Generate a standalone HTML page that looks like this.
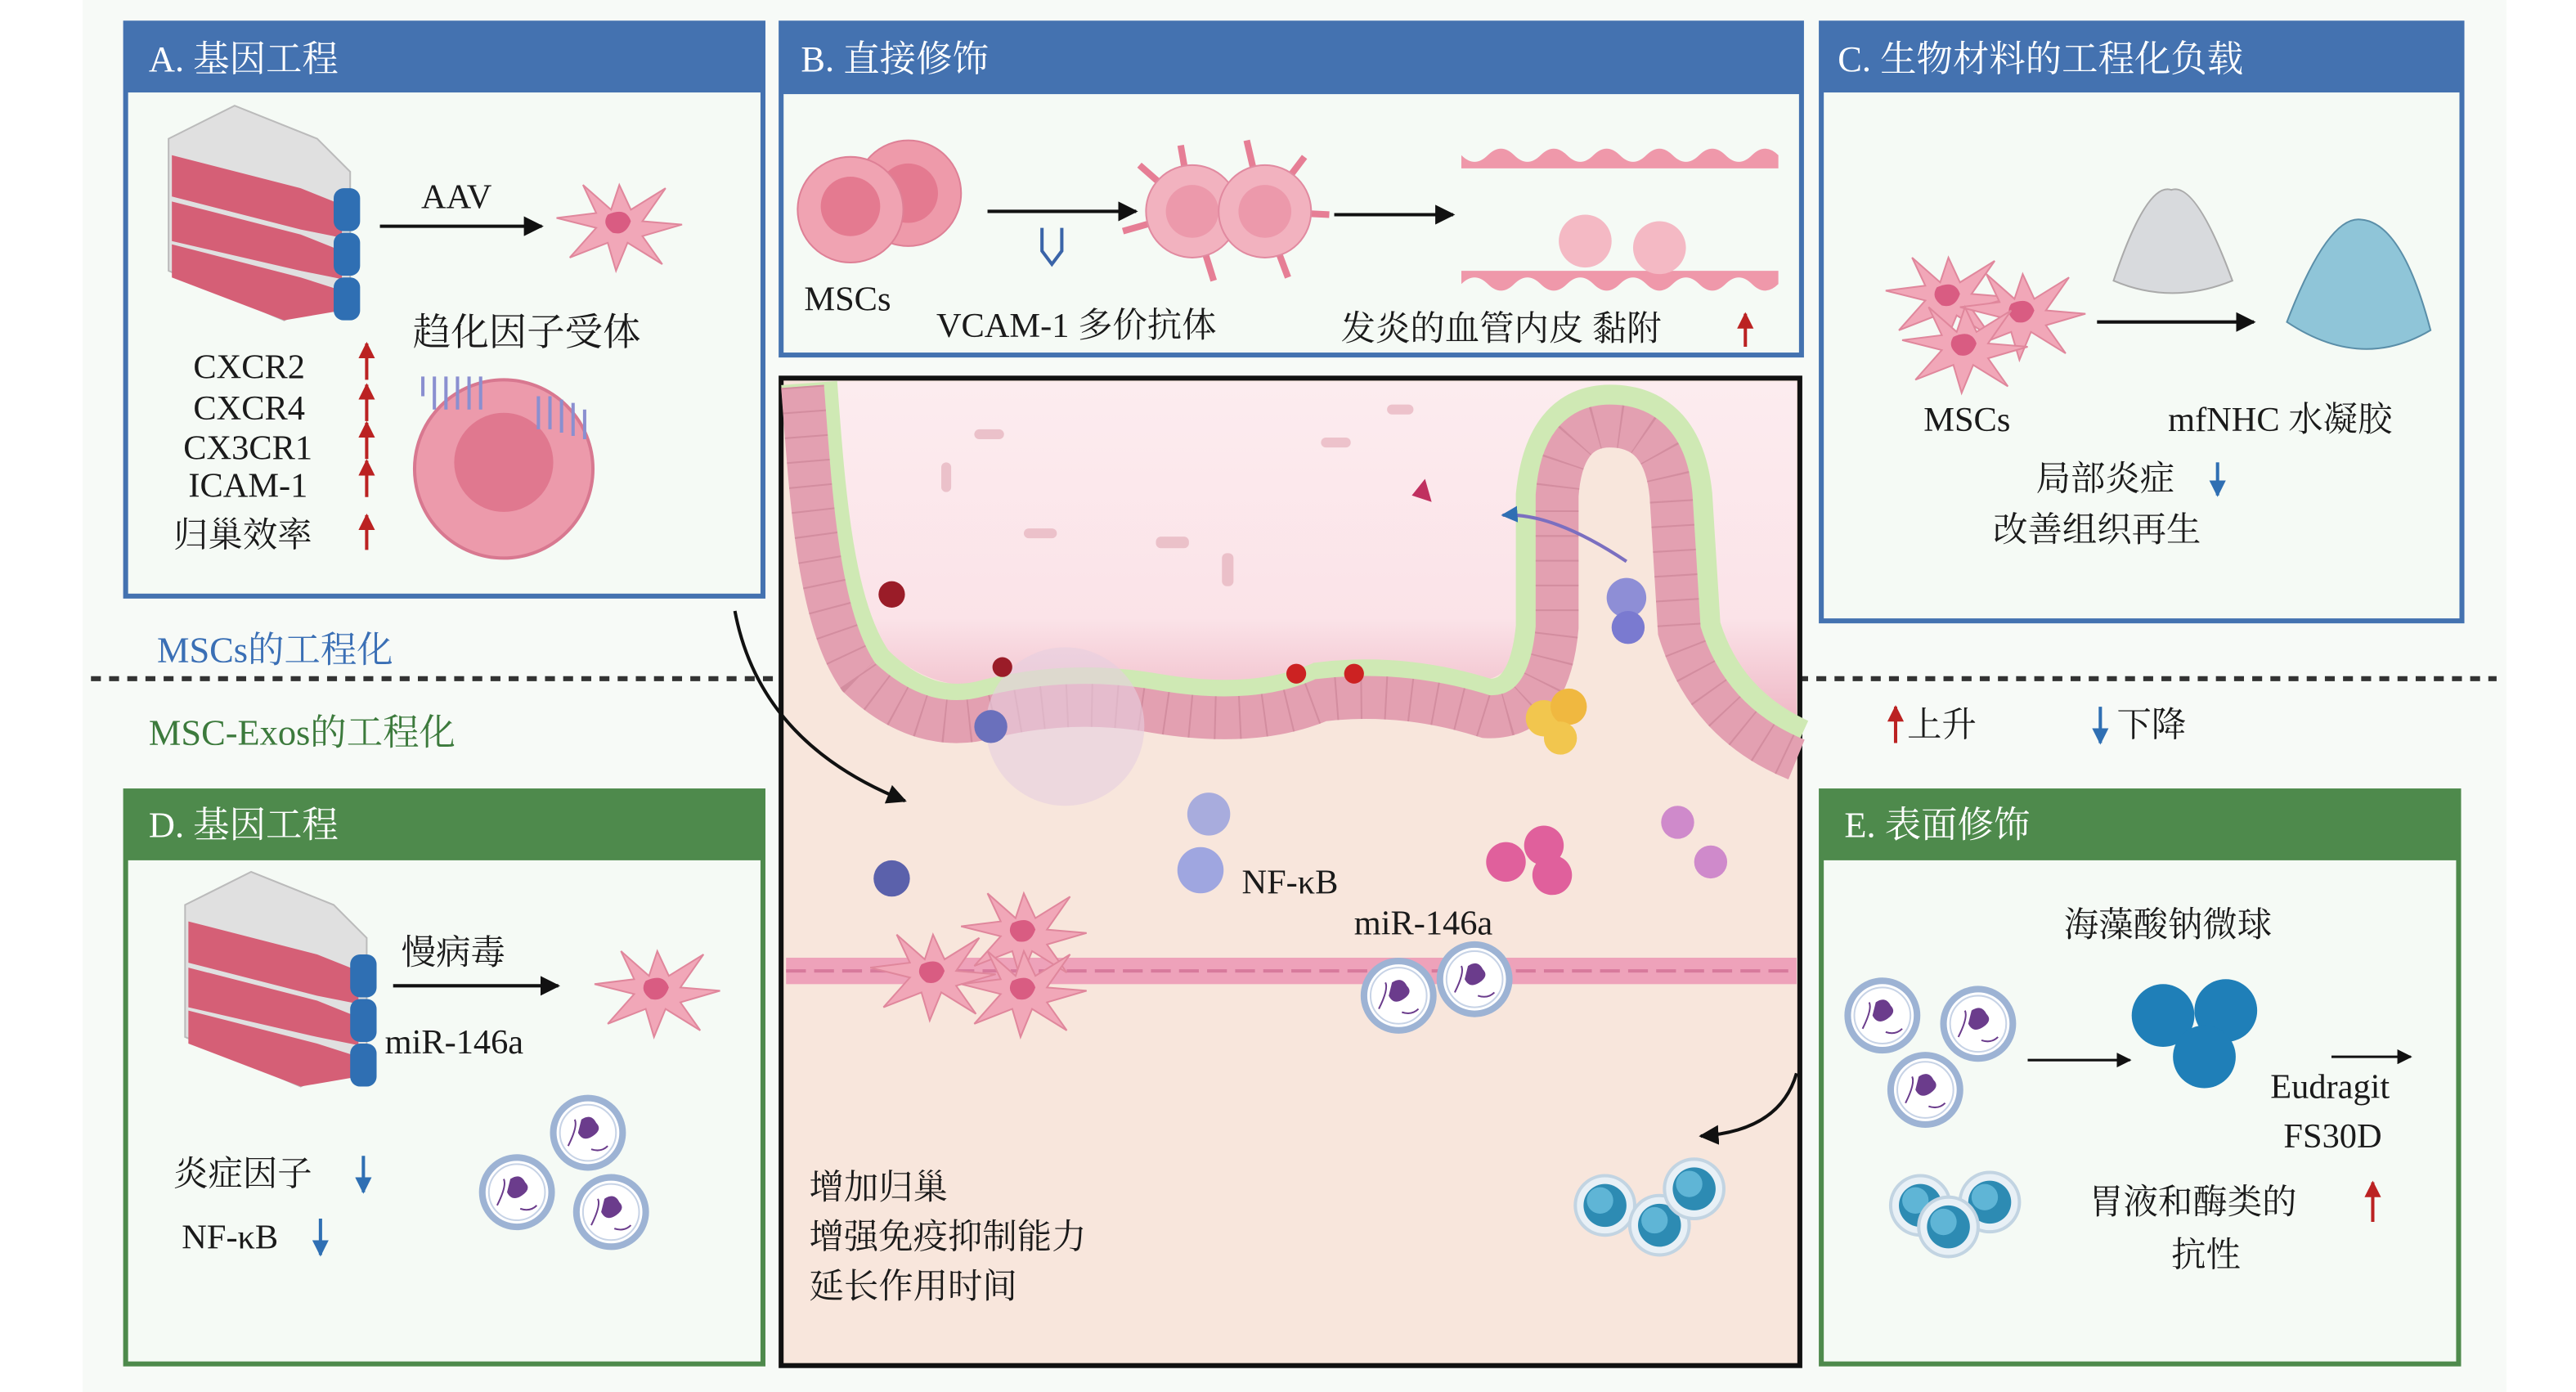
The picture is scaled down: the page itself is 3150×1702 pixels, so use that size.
<!DOCTYPE html>
<html><head><meta charset="utf-8">
<style>
html,body{margin:0;padding:0;background:#fff;}
svg{display:block;}
text{font-family:"Liberation Serif","Noto Serif CJK SC",serif;fill:#1a1a1a;}
.h{fill:#fff;font-size:22px;}
.t{font-size:21px;}
</style></head><body>
<svg width="3150" height="1702" viewBox="0 0 1560 843" xmlns="http://www.w3.org/2000/svg">
<defs>
<g id="msc">
<path d="M0,-24 L7,-9 L28,-22 L14,-2 L38,0 L14,7 L26,24 L5,11 L-2,28 L-7,11 L-30,20 L-14,2 L-38,-4 L-14,-7 L-22,-24 L-5,-9 Z" fill="#f1a7b8" stroke="#e0879c" stroke-width="1"/>
<path d="M-7,-6 Q4,-11 7,-2 Q4,7 -4,5 Q-11,0 -7,-6Z" fill="#d95c82"/>
</g>
<g id="flask">
<path d="M0,20 L40,0 L90,20 L110,40 L110,110 L70,130 L0,100 Z" fill="#e0e0e0" stroke="#bbb"/>
<path d="M2,30 L80,50 L105,60 L105,80 L80,75 L2,55Z" fill="#d55f76"/>
<path d="M2,58 L80,78 L105,88 L105,105 L80,100 L2,82Z" fill="#d55f76"/>
<path d="M2,84 L80,104 L105,112 L105,124 L70,130 L2,104Z" fill="#d55f76"/>
<rect x="100" y="50" width="16" height="26" rx="6" fill="#2f6fb3"/>
<rect x="100" y="77" width="16" height="26" rx="6" fill="#2f6fb3"/>
<rect x="100" y="104" width="16" height="26" rx="6" fill="#2f6fb3"/>
</g>
<g id="exo">
<circle r="21" fill="#fff" stroke="#9db3d4" stroke-width="4"/>
<circle r="17" fill="#fff" stroke="#c7d3e6" stroke-width="1"/>
<path d="M-4,-8 q6,-4 9,2 q4,4 -2,8 q-6,4 -9,-2z" fill="#6b3c8c"/>
<path d="M-12,8 q6,-12 4,-16 M2,10 q6,2 10,-2" stroke="#6b3c8c" fill="none"/>
</g>
<g id="bead">
<circle r="18" fill="#e8f0f6" stroke="#c2d4e2" stroke-width="2"/>
<circle r="13" fill="#2d8bb3"/>
<circle r="8" cx="-3" cy="-3" fill="#5fb5d6"/>
</g>
<marker id="ar" viewBox="0 0 10 10" refX="9" refY="5" markerWidth="6" markerHeight="6" orient="auto"><path d="M0,0L10,5L0,10Z" fill="#111"/></marker>
<marker id="rd" viewBox="0 0 10 10" refX="9" refY="5" markerWidth="5" markerHeight="5" orient="auto"><path d="M0,0L10,5L0,10Z" fill="#b22"/></marker>
<marker id="bl" viewBox="0 0 10 10" refX="9" refY="5" markerWidth="5" markerHeight="5" orient="auto"><path d="M0,0L10,5L0,10Z" fill="#2f6fb3"/></marker>
<linearGradient id="lum" x1="0" y1="0" x2="0" y2="1"><stop offset="0" stop-color="#fcecef"/><stop offset="0.7" stop-color="#fbe3e8"/><stop offset="1" stop-color="#efb8c6"/></linearGradient>
</defs>

<rect x="50" y="0" width="1468" height="843" fill="#f7faf7"/>
<line x1="55" y1="411" x2="1512" y2="411" stroke="#333" stroke-width="3" stroke-dasharray="6,5"/>

<!-- Panel A -->
<rect x="76" y="14" width="386" height="347" fill="#f5faf5" stroke="#4472b0" stroke-width="3"/>
<rect x="76" y="14" width="386" height="42" fill="#4472b0"/>
<text x="90" y="43" class="h">A. 基因工程</text>
<use href="#flask" x="102" y="64"/>
<line x1="230" y1="137" x2="328" y2="137" stroke="#111" stroke-width="2" marker-end="url(#ar)"/>
<text x="255" y="126" class="t">AAV</text>
<use href="#msc" x="375" y="136"/>
<text x="250" y="209" class="t" style="font-size:23px">趋化因子受体</text>
<text x="117" y="229" class="t">CXCR2</text>
<text x="117" y="254" class="t">CXCR4</text>
<text x="111" y="278" class="t">CX3CR1</text>
<text x="114" y="301" class="t">ICAM-1</text>
<text x="105" y="331" class="t">归巢效率</text>
<g stroke="#b22" stroke-width="2" marker-end="url(#rd)">
<line x1="222" y1="230" x2="222" y2="208"/><line x1="222" y1="255" x2="222" y2="233"/>
<line x1="222" y1="278" x2="222" y2="256"/><line x1="222" y1="301" x2="222" y2="279"/>
<line x1="222" y1="333" x2="222" y2="312"/></g>
<circle cx="305" cy="284" r="54" fill="#ec9aab" stroke="#d87890" stroke-width="2"/>
<circle cx="305" cy="280" r="30" fill="#e0788f"/>
<g stroke="#8a8fd0" fill="none" stroke-width="2"><path d="M256,240 v-12 M263,248 v-20 M270,248 v-20 M277,248 v-20 M284,248 v-20 M291,248 v-20"/><path d="M326,260 v-20 M333,260 v-20 M340,262 v-20 M347,264 v-20 M354,266 v-18"/></g>

<!-- Panel B -->
<rect x="473" y="14" width="618" height="201" fill="#f5faf5" stroke="#4472b0" stroke-width="3"/>
<rect x="473" y="14" width="618" height="43" fill="#4472b0"/>
<text x="485" y="43" class="h">B. 直接修饰</text>
<circle cx="550" cy="117" r="32" fill="#ee9aaa" stroke="#de8096"/><circle cx="550" cy="117" r="18" fill="#e47a90"/>
<circle cx="515" cy="127" r="32" fill="#f0a3b2" stroke="#de8096"/><circle cx="515" cy="125" r="18" fill="#e47a90"/>
<text x="487" y="188" class="t">MSCs</text>
<line x1="598" y1="128" x2="688" y2="128" stroke="#111" stroke-width="2" marker-end="url(#ar)"/>
<path d="M631,138 v14 l6,8 l6,-8 v-14" stroke="#3a64a8" fill="none" stroke-width="2"/>
<text x="567" y="204" class="t">VCAM-1 多价抗体</text>
<g stroke="#e67e95" stroke-width="4"><line x1="722" y1="128" x2="690" y2="100"/><line x1="722" y1="128" x2="680" y2="140"/><line x1="722" y1="128" x2="715" y2="88"/><line x1="722" y1="128" x2="735" y2="170"/><line x1="765" y1="128" x2="790" y2="95"/><line x1="765" y1="128" x2="805" y2="130"/><line x1="765" y1="128" x2="780" y2="168"/><line x1="765" y1="128" x2="755" y2="85"/></g>
<circle cx="722" cy="128" r="28" fill="#f2b2bf" stroke="#e18aa0"/><circle cx="722" cy="128" r="16" fill="#ec99ab"/>
<circle cx="766" cy="128" r="28" fill="#f2b2bf" stroke="#e18aa0"/><circle cx="766" cy="128" r="16" fill="#ec99ab"/>
<line x1="808" y1="130" x2="880" y2="130" stroke="#111" stroke-width="2" marker-end="url(#ar)"/>
<path d="M885,94 q8,8 16,0 t16,0 t16,0 t16,0 t16,0 t16,0 t16,0 t16,0 t16,0 t16,0 t16,0 t16,0 v8 h-192z" fill="#ef98aa"/>
<path d="M885,172 q8,-8 16,0 t16,0 t16,0 t16,0 t16,0 t16,0 t16,0 t16,0 t16,0 t16,0 t16,0 t16,0 v-8 h-192z" fill="#ef98aa"/>
<circle cx="960" cy="146" r="16" fill="#f4b9c4"/><circle cx="1005" cy="150" r="16" fill="#f4b9c4"/>
<text x="812" y="206" class="t">发炎的血管内皮 黏附</text>
<line x1="1057" y1="210" x2="1057" y2="190" stroke="#b22" stroke-width="2" marker-end="url(#rd)"/>

<!-- Panel C -->
<rect x="1103" y="14" width="388" height="362" fill="#f5faf5" stroke="#4472b0" stroke-width="3"/>
<rect x="1103" y="14" width="388" height="42" fill="#4472b0"/>
<text x="1113" y="43" class="h">C. 生物材料的工程化负载</text>
<use href="#msc" x="1180" y="180"/><use href="#msc" x="1225" y="190"/><use href="#msc" x="1190" y="210"/>
<path d="M1280,170 Q1300,110 1315,115 Q1330,110 1352,170 Q1315,185 1280,170Z" fill="#d8dadd" stroke="#aaa"/>
<line x1="1270" y1="195" x2="1365" y2="195" stroke="#111" stroke-width="2" marker-end="url(#ar)"/>
<path d="M1385,195 Q1410,130 1430,133 Q1455,135 1472,200 Q1430,225 1385,195Z" fill="#8fc5d8" stroke="#5a8ea8"/>
<text x="1165" y="261" class="t">MSCs</text>
<text x="1313" y="261" class="t">mfNHC 水凝胶</text>
<text x="1233" y="297" class="t">局部炎症</text>
<line x1="1343" y1="280" x2="1343" y2="300" stroke="#2f6fb3" stroke-width="2" marker-end="url(#bl)"/>
<text x="1207" y="328" class="t">改善组织再生</text>

<!-- labels -->
<text x="95" y="401" style="font-size:22px;fill:#3a6fb5">MSCs的工程化</text>
<text x="90" y="451" style="font-size:22px;fill:#3c7a3c">MSC-Exos的工程化</text>
<line x1="1148" y1="450" x2="1148" y2="428" stroke="#b22" stroke-width="2" marker-end="url(#rd)"/>
<text x="1155" y="446" class="t">上升</text>
<line x1="1272" y1="428" x2="1272" y2="450" stroke="#2f6fb3" stroke-width="2" marker-end="url(#bl)"/>
<text x="1282" y="446" class="t">下降</text>

<!-- Center -->
<rect x="473" y="229" width="617" height="598" fill="#f8e6dc" stroke="#111" stroke-width="3"/>
<path d="M505,231 C508,300 512,360 535,392 Q565,420 600,414 Q650,402 700,411 Q760,421 800,404 Q850,398 895,412 Q918,412 921,380 L921,300 Q925,236 975,236 Q1030,236 1034,300 L1039,378 Q1050,420 1088,436 L1088,231Z" fill="url(#lum)"/>
<path d="M490,232 C495,300 500,370 525,405 Q560,440 600,428 Q650,416 700,425 Q760,435 800,418 Q850,412 900,428 Q930,430 935,380 L935,300 Q940,250 975,250 Q1015,250 1020,300 L1025,380 Q1040,430 1088,452" fill="none" stroke="#cfe9b4" stroke-width="34"/>
<path d="M486,234 C491,300 495,374 520,410 Q558,446 600,434 Q650,422 700,431 Q760,441 800,424 Q850,418 900,434 Q938,436 943,380 L943,300 Q946,258 975,258 Q1008,258 1012,300 L1017,382 Q1034,438 1088,460" fill="none" stroke="#e3a0b1" stroke-width="26"/>
<path d="M486,234 C491,300 495,374 520,410 Q558,446 600,434 Q650,422 700,431 Q760,441 800,424 Q850,418 900,434 Q938,436 943,380 L943,300 Q946,258 975,258 Q1008,258 1012,300 L1017,382 Q1034,438 1088,460" fill="none" stroke="#c47a8e" stroke-width="26" stroke-dasharray="1,14" opacity="0.5"/>
<circle cx="645" cy="440" r="48" fill="#e6cfe0" opacity="0.6"/>
<circle cx="540" cy="360" r="8" fill="#9a1c28"/><circle cx="607" cy="404" r="6" fill="#9a1c28"/>
<circle cx="785" cy="408" r="6" fill="#c22"/><circle cx="820" cy="408" r="6" fill="#c22"/>
<circle cx="600" cy="440" r="10" fill="#6a70bc"/>
<circle cx="985" cy="362" r="12" fill="#8e8ed6"/><circle cx="986" cy="380" r="10" fill="#7a7ad0"/>
<circle cx="935" cy="435" r="11" fill="#f2c64e"/><circle cx="950" cy="428" r="11" fill="#f0b840"/><circle cx="945" cy="447" r="10" fill="#f2c64e"/>
<path d="M985,340 Q940,310 910,312" stroke="#7b6fc0" stroke-width="2" fill="none" marker-end="url(#bl)"/>
<path d="M855,300 l8,-10 l4,14z" fill="#c03060"/>
<g fill="#e8b8c2" opacity="0.8"><rect x="700" y="325" width="20" height="7" rx="3"/><rect x="740" y="335" width="7" height="20" rx="3"/><rect x="590" y="260" width="18" height="6" rx="3"/><rect x="620" y="320" width="20" height="6" rx="3"/><rect x="840" y="245" width="16" height="6" rx="3"/><rect x="800" y="265" width="18" height="6" rx="3"/><rect x="570" y="280" width="6" height="18" rx="3"/></g>
<path d="M445,370 Q460,450 548,485" stroke="#111" stroke-width="2" fill="none" marker-end="url(#ar)"/>
<circle cx="732" cy="493" r="13" fill="#a8acdd"/><circle cx="727" cy="527" r="14" fill="#9fa6e0"/>
<text x="752" y="541" class="t">NF-κB</text>
<circle cx="540" cy="532" r="11" fill="#5b61ab"/>
<circle cx="912" cy="522" r="12" fill="#e0609c"/><circle cx="935" cy="512" r="12" fill="#e0609c"/><circle cx="940" cy="530" r="12" fill="#e0609c"/>
<circle cx="1016" cy="498" r="10" fill="#cf8acb"/><circle cx="1036" cy="522" r="10" fill="#cf8acb"/>
<text x="820" y="566" class="t">miR-146a</text>
<rect x="476" y="580" width="612" height="16" fill="#eea2ba"/>
<line x1="476" y1="588" x2="1088" y2="588" stroke="#d77a9c" stroke-width="2" stroke-dasharray="12,5"/>
<use href="#msc" x="620" y="565"/><use href="#msc" x="565" y="590"/><use href="#msc" x="620" y="600"/>
<use href="#exo" x="847" y="603"/><use href="#exo" x="893" y="593"/>
<path d="M1088,650 Q1078,685 1030,688" stroke="#111" stroke-width="2" fill="none" marker-end="url(#ar)"/>
<use href="#bead" x="972" y="730"/><use href="#bead" x="1005" y="742"/><use href="#bead" x="1026" y="720"/>
<text x="490" y="726" class="t">增加归巢</text>
<text x="490" y="756" class="t">增强免疫抑制能力</text>
<text x="490" y="786" class="t">延长作用时间</text>

<!-- Panel D -->
<rect x="76" y="479" width="386" height="347" fill="#f5faf5" stroke="#4e8a4c" stroke-width="3"/>
<rect x="76" y="479" width="386" height="42" fill="#4e8a4c"/>
<text x="90" y="507" class="h">D. 基因工程</text>
<use href="#flask" x="112" y="528"/>
<line x1="238" y1="597" x2="338" y2="597" stroke="#111" stroke-width="2" marker-end="url(#ar)"/>
<text x="243" y="584" class="t">慢病毒</text>
<text x="233" y="638" class="t">miR-146a</text>
<use href="#msc" x="398" y="600"/>
<text x="105" y="718" class="t">炎症因子</text>
<line x1="220" y1="700" x2="220" y2="722" stroke="#2f6fb3" stroke-width="2" marker-end="url(#bl)"/>
<text x="110" y="756" class="t">NF-κB</text>
<line x1="194" y1="738" x2="194" y2="760" stroke="#2f6fb3" stroke-width="2" marker-end="url(#bl)"/>
<use href="#exo" x="356" y="686"/><use href="#exo" x="313" y="722"/><use href="#exo" x="370" y="734"/>

<!-- Panel E -->
<rect x="1103" y="479" width="386" height="347" fill="#f5faf5" stroke="#4e8a4c" stroke-width="3"/>
<rect x="1103" y="479" width="386" height="42" fill="#4e8a4c"/>
<text x="1117" y="507" class="h">E. 表面修饰</text>
<text x="1250" y="567" class="t">海藻酸钠微球</text>
<use href="#exo" x="1140" y="615"/><use href="#exo" x="1198" y="620"/><use href="#exo" x="1166" y="660"/>
<line x1="1228" y1="642" x2="1290" y2="642" stroke="#111" stroke-width="1.5" marker-end="url(#ar)"/>
<circle cx="1310" cy="615" r="19" fill="#1f7fb8"/><circle cx="1348" cy="612" r="19" fill="#1f7fb8"/><circle cx="1335" cy="640" r="19" fill="#1f7fb8"/>
<line x1="1412" y1="640" x2="1460" y2="640" stroke="#111" stroke-width="1.5" marker-end="url(#ar)"/>
<text x="1375" y="665" class="t">Eudragit</text>
<text x="1383" y="695" class="t">FS30D</text>
<use href="#bead" x="1163" y="730"/><use href="#bead" x="1205" y="728"/><use href="#bead" x="1180" y="743"/>
<text x="1265" y="735" class="t">胃液和酶类的</text>
<line x1="1437" y1="740" x2="1437" y2="716" stroke="#b22" stroke-width="2" marker-end="url(#rd)"/>
<text x="1315" y="767" class="t">抗性</text>
</svg>
</body></html>
